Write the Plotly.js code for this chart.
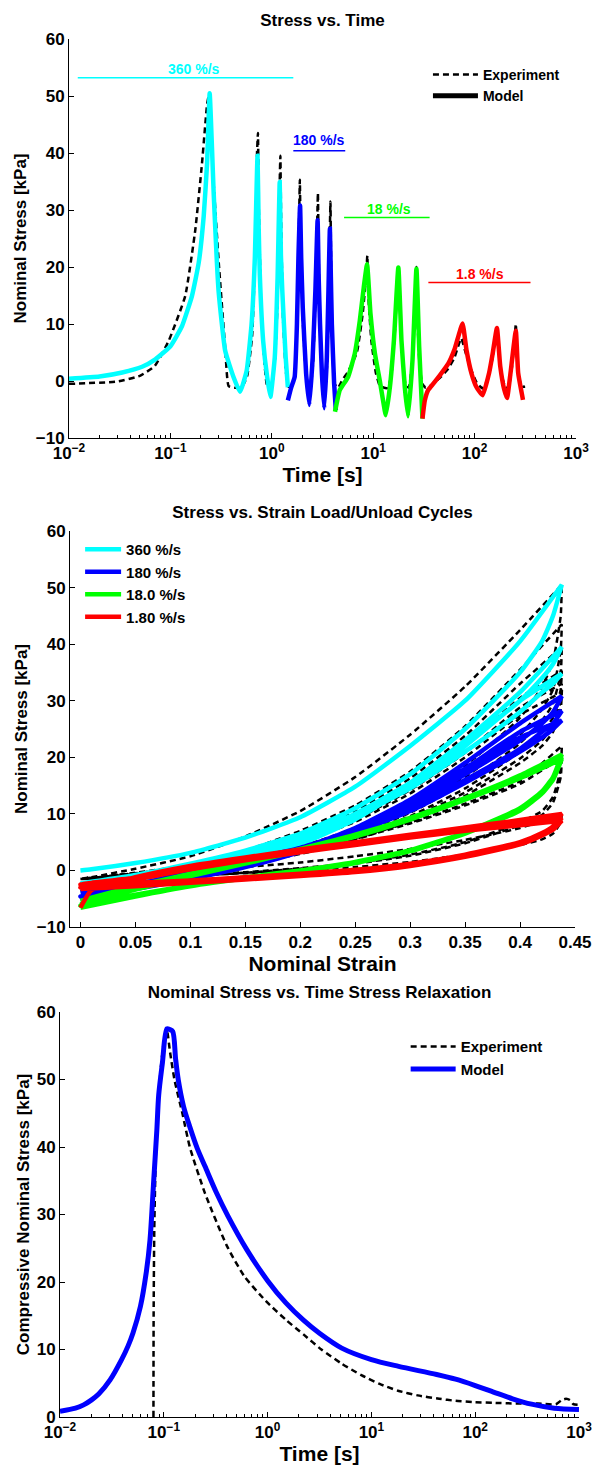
<!DOCTYPE html>
<html><head><meta charset="utf-8">
<script src="https://cdn.plot.ly/plotly-3.0.1.min.js"></script>
<style>body{margin:0;background:#fff}</style>
</head><body>
<div id="c1" style="width:592px;height:490px"></div>
<div id="c2" style="width:592px;height:490px"></div>
<div id="c3" style="width:592px;height:489px"></div>
<script>
// ---------------- Chart 1: Stress vs. Time ----------------
const cyanTime = [0.01, 0.02, 0.0335, 0.0526, 0.071, 0.1, 0.13, 0.163, 0.19, 0.213,
  0.23, 0.244, 0.257, 0.267, 0.299, 0.347, 0.419, 0.486, 0.565, 0.632,
  0.68, 0.723, 0.742, 0.762, 0.822, 0.9, 0.969, 1.07, 1.14, 1.197,
  1.23, 1.27, 1.37, 1.44];
const cyanStress = [0.4, 0.8, 1.5, 2.5, 3.8, 6.1, 9.6, 14.9, 20.7, 28.9,
  38.2, 50.5, 41, 33.1, 15.7, 5.3, 0.7, -1.9, 1.8, 10,
  21.5, 39.5, 27, 18.6, 7.0, 0.7, -2.8, 4.2, 18, 34.9,
  22, 15.7, 4.2, -1.1];
const blueTime = [1.44, 1.55, 1.68, 1.77, 1.83, 1.90, 1.95, 2.02, 2.18, 2.35,
  2.53, 2.69, 2.83, 2.9, 2.99, 3.12, 3.29, 3.49, 3.62, 3.74,
  3.82, 3.91, 4.12, 4.28];
const blueStress = [-3.4, -1.2, 0.7, 10, 21.5, 30.8, 21.5, 12.9, 1.3, -4.2,
  4.2, 15.8, 28.2, 18, 10, 1.3, -4.8, 4.2, 15.8, 26.7,
  18.6, 10, -0.5, -5.1];
const greenTime = [4.2, 4.68, 5.65, 6.58, 7.38, 8.08, 8.7, 9.4, 10.4, 11.6,
  12.5, 13.3, 14.6, 16.0, 17.7, 19.0, 20.5, 22.1, 24.4, 26.7,
  28.4, 30.6];
const greenStress = [-5.4, -1.6, 0.7, 4.8, 10.6, 16.5, 20.5, 11.8, 4.8, 0.1,
  -3.4, -6.0, -1.1, 7.1, 19.9, 7.1, -1.1, -6.2, 3.6, 19.7,
  6.0, -6.6];
const redTime = [30.6, 32.3, 34.8, 39, 45.4, 54.8, 63.8, 76, 83.2, 93.3,
  104.5, 120, 139, 151, 166, 179, 196, 209, 226, 255,
  269, 300];
const redStress = [-6.6, -3.4, -1.6, -0.5, 1.0, 3.0, 5.7, 10.1, 5.4, 1.3,
  -1.1, -2.5, 1.4, 4.9, 9.3, 2.6, -1.5, -3.0, 1.4, 8.8,
  1.4, -3.3];
const expTime1 = [0.01, 0.03, 0.05, 0.07, 0.096, 0.14, 0.176, 0.205, 0.23, 0.242,
  0.26, 0.3, 0.348, 0.375, 0.44, 0.5, 0.57, 0.64, 0.69, 0.715,
  0.73, 0.745, 0.78, 0.84, 0.89, 0.95, 1.0, 1.07, 1.14, 1.19,
  1.215, 1.235, 1.29, 1.38, 1.46, 1.58, 1.7, 1.79, 1.865, 1.89,
  1.93, 2.03, 2.2, 2.4, 2.55, 2.72, 2.82, 2.85, 2.9, 3.0,
  3.13, 3.32, 3.5, 3.66, 3.76, 3.79, 3.84, 3.95, 4.15, 4.5,
  5.0, 5.6, 6.9, 7.9, 8.55, 8.75, 8.95, 9.6, 10.6, 11.6,
  12.8, 14.0, 15.2, 16.4, 17.5, 17.8, 18.5, 19.5, 20.8, 22.4,
  24.2, 25.9, 26.7, 27.2, 28.6, 30.5, 33, 37, 42, 47,
  55, 63, 70, 74, 80, 90, 105, 120, 135, 150,
  160, 166, 172, 185, 200, 215, 232, 247, 255, 262,
  280, 300, 315];
const expStress1 = [-0.5, -0.1, 0.9, 2.6, 7.0, 14.9, 26.5, 38.2, 48.5, 50.5,
  38, 20.7, 5.5, -0.9, -1.2, -1.2, 0.8, 8, 24, 40,
  43.5, 30, 15, 4, -0.5, -1.2, -1.0, 3, 14, 33,
  39.5, 28, 11, 1.5, -1, -0.8, 2, 13, 30, 35.3,
  24, 10, 0.5, -1.2, 3, 17, 30, 33, 22, 9,
  0.5, -1.2, 2.5, 16, 29, 31.5, 21, 7, -0.5, -1.2,
  0.3, 1.5, 5, 12, 19, 22, 15, 7, 1.5, -0.8,
  -1.2, -1.2, 1.5, 9, 18.5, 20.2, 12, 4, -0.5, -1.2,
  3, 14, 20, 12, 3, -0.5, -1.2, -0.8, 0, 0.8,
  2.2, 4, 6.5, 7.5, 5.5, 2.5, -0.3, -1.3, 0.3, 4,
  8, 9.5, 5, 1, -1, -1.3, 2, 7, 10, 5,
  0, -1, -1];
const rateLabels = ['360 %/s', '180 %/s', '18 %/s', '1.8 %/s'];
const rateColors = ['#00FFFF', '#0000FF', '#00FF00', '#FF0000'];
const rateLineStart = [0.0122, 1.63, 5.16, 35];
const rateLineEnd = [1.63, 5.3, 36, 356];
const rateLineLevel = [53.2, 40.4, 28.7, 17.3];
const rateTextTime = [0.17, 2.94, 14.2, 114];
const rateTextStress = [54.8, 42.2, 30.2, 18.8];

// ---------------- Chart 2: Stress vs. Strain loops ----------------
const loadStrain = [0, 0.01, 0.05, 0.1, 0.15, 0.2, 0.25, 0.3, 0.35, 0.4, 0.438];
const unloadStrain = [0.438, 0.43, 0.42, 0.4, 0.35, 0.3, 0.25, 0.2, 0.15, 0.1, 0.05, 0];
const expUnloadStrain = [0.438, 0.437, 0.43, 0.42, 0.4, 0.35, 0.3, 0.25, 0.2, 0.15, 0.1, 0.05, 0];
const legendRates = ['360 %/s', '180 %/s', '18.0 %/s', '1.80 %/s'];

const cyanLoad1 = [0, 0.2, 1.3, 3.1, 5.8, 9.4, 14.8, 22, 30, 40.5, 50.5];
const cyanUnload1 = [50.5, 45, 40.5, 35, 25, 17, 11, 6.5, 3.5, 1.2, -0.8, -2.3];
const cyanLoad2 = [-2.3, -2.1, -1.2, 0.3, 2.2, 5, 9.5, 15.5, 23, 31.5, 39.5];
const cyanUnload2 = [39.5, 36.5, 34, 30, 22.5, 15.5, 10, 6, 3.2, 1, -1, -3];
const cyanLoad3 = [-3, -2.8, -1.8, -0.2, 1.8, 4.6, 9, 15, 22, 30, 34.8];
const cyanUnload3 = [34.8, 33, 31.5, 28, 21, 14.5, 9.5, 5.7, 3, 0.8, -1.3, -3.8];

const blueLoad1 = [-3.8, -3.5, -2.5, -1, 1, 3.8, 7.5, 12.5, 19, 26, 30.8];
const blueUnload1 = [30.8, 28, 26, 23, 17, 11.5, 7.2, 4, 1.8, -0.3, -2.5, -4.6];
const blueLoad2 = [-4.6, -4.2, -3, -1.3, 0.8, 3.5, 7, 12, 18, 24.5, 28.2];
const blueUnload2 = [28.2, 26, 24.5, 21.5, 16, 11, 7, 3.8, 1.5, -0.6, -2.8, -5];
const blueLoad3 = [-5, -4.6, -3.3, -1.5, 0.6, 3.3, 6.8, 11.5, 17.5, 23.5, 26.5];
const blueUnload3 = [26.5, 25, 23.5, 21, 15.5, 10.5, 6.7, 3.6, 1.3, -0.8, -3, -5.2];

const greenLoad1 = [-5.4, -4.8, -2.8, -0.6, 1.5, 3.8, 6.3, 9.3, 12.8, 16.8, 20.5];
const greenUnload1 = [20.5, 16.5, 14, 11, 6.7, 3.6, 1.5, 0, -1.2, -2.6, -4.3, -6];
const greenLoad2 = [-6, -5.3, -3.2, -0.8, 1.3, 3.6, 6.1, 9.1, 12.6, 16.5, 20];
const greenUnload2 = [20, 16.2, 13.8, 10.8, 6.6, 3.5, 1.4, -0.1, -1.3, -2.7, -4.4, -6.2];
const greenLoad3 = [-6.2, -5.5, -3.4, -1, 1.2, 3.5, 6, 9, 12.5, 16.3, 19.7];
const greenUnload3 = [19.7, 16, 13.6, 10.6, 6.5, 3.4, 1.3, -0.2, -1.4, -2.8, -4.6, -6.6];

const redLoad1 = [-6.6, -3.5, -1.2, 0.8, 2.3, 3.7, 5.0, 6.3, 7.6, 8.9, 10];
const redUnload1 = [10, 7.8, 6.6, 5, 2.8, 1.2, 0.1, -0.6, -1.2, -1.8, -2.2, -2.5];
const redLoad2 = [-2.5, -2.2, -1.3, 0.4, 2.0, 3.4, 4.7, 6.0, 7.2, 8.3, 9.3];
const redUnload2 = [9.3, 7.5, 6.4, 4.8, 2.6, 1.0, -0.1, -0.8, -1.4, -2, -2.5, -3];
const redLoad3 = [-3, -2.6, -1.6, 0.2, 1.8, 3.2, 4.5, 5.8, 7.0, 8.0, 8.8];
const redUnload3 = [8.8, 7.2, 6.2, 4.6, 2.4, 0.8, -0.3, -1.0, -1.6, -2.2, -2.8, -3.3];

const expLoadA = [-1.5, -1.2, 0.3, 2.5, 6, 10.5, 16.5, 24, 32.5, 42.5, 50.5];
const expUnloadA = [50.5, 45, 37, 32.5, 27, 18.5, 12, 7.5, 4.2, 2, 0.4, -0.8, -1.5];
const expLoadB = [-1.5, -1.3, -0.4, 1, 3.5, 7, 11.5, 17.5, 25.5, 35.5, 43.5];
const expUnloadB = [43.5, 39, 32, 28.5, 24, 16.5, 10.8, 6.8, 3.8, 1.8, 0.2, -0.9, -1.5];
const expLoadC = [-1.5, -1.3, -0.5, 0.8, 3.1, 6.3, 10.5, 16.3, 23.8, 33, 39.5];
const expUnloadC = [39.5, 35, 29.5, 26.5, 22.5, 15.5, 10.2, 6.4, 3.6, 1.6, 0.1, -1, -1.5];
const expLoadD = [-1.5, -1.3, -0.6, 0.6, 2.8, 5.7, 9.6, 15, 22, 30.5, 35.3];
const expUnloadD = [35.3, 32, 27, 24.5, 21, 14.5, 9.6, 6, 3.3, 1.4, 0, -1, -1.5];
const expLoadE = [-1.5, -1.3, -0.7, 0.4, 2.5, 5.3, 9, 14.2, 20.8, 28.8, 33];
const expUnloadE = [33, 30, 25.5, 23, 19.8, 13.8, 9.2, 5.7, 3.1, 1.3, -0.1, -1.1, -1.5];
const expLoadF = [-1.5, -1.3, -0.7, 0.3, 2.3, 5, 8.6, 13.6, 20, 27.5, 31.5];
const expUnloadF = [31.5, 28.5, 24.5, 22, 19, 13.2, 8.8, 5.4, 2.9, 1.2, -0.2, -1.1, -1.5];
const expLoadG = [-1.5, -1.3, -0.7, 0.3, 1.8, 3.6, 5.8, 8.5, 11.8, 15.8, 22];
const expUnloadG = [22, 18, 13, 10.5, 8.5, 5, 2.8, 1.3, 0.4, -0.3, -0.8, -1.2, -1.5];
const expLoadH = [-1.5, -1.3, -0.7, 0.3, 1.7, 3.5, 5.6, 8.3, 11.5, 15.3, 20];
const expUnloadH = [20, 16.5, 12, 9.8, 8, 4.8, 2.6, 1.2, 0.3, -0.4, -0.9, -1.2, -1.5];
const expLoadI = [-1.5, -1.4, -0.9, -0.2, 0.6, 1.4, 2.5, 3.8, 5.4, 7.5, 10];
const expUnloadI = [10, 8.5, 6.5, 5.5, 4.5, 2.8, 1.5, 0.6, 0, -0.5, -0.9, -1.2, -1.5];

// ---------------- Chart 3: Stress relaxation ----------------
const relaxTime = [0.01, 0.0141, 0.0169, 0.02, 0.0236, 0.0304, 0.0392, 0.0452, 0.0504, 0.0596,
  0.0676, 0.0736, 0.08, 0.0857, 0.0893, 0.097, 0.107, 0.114, 0.122, 0.13,
  0.138, 0.155, 0.178, 0.21, 0.25, 0.32, 0.414, 0.63, 1.0, 1.5,
  2.23, 3.16, 5.18, 10, 18.3, 42.5, 64.7, 98.6, 150, 229,
  349, 578, 1000];
const relaxModel = [0.84, 1.3, 1.8, 2.5, 3.4, 5.5, 8.5, 10.5, 12.4, 16.4,
  21.3, 26.2, 35.1, 42.5, 47.7, 52.5, 57.5, 57.4, 57.1, 53,
  49.9, 46, 43, 39.8, 37.1, 33.3, 29.8, 24.8, 20.2, 16.9,
  14.3, 12.4, 10.2, 8.5, 7.5, 6.3, 5.6, 4.7, 3.7, 2.7,
  1.9, 1.3, 1.1];
const relaxExpTime = [0.0795, 0.0798, 0.081, 0.0835, 0.0875, 0.094, 0.1, 0.107, 0.115, 0.127,
  0.151, 0.178, 0.25, 0.41, 0.6, 0.96, 1.5, 2.23, 3.3, 5.18,
  8, 12, 18, 27.9, 45, 64.7, 100, 150, 250, 400,
  600, 680, 750, 820, 880, 1000];
const relaxExp = [0, 15, 28, 38, 46, 52, 55.5, 57.3, 54, 49.9,
  45, 40, 33.1, 25.2, 20.8, 17.2, 14.4, 12.2, 10, 7.9,
  6.2, 4.9, 3.9, 3.2, 2.7, 2.4, 2.2, 2.1, 2.0, 2.0,
  1.9, 2.5, 2.7, 2.5, 1.9, 1.8];

// ---------------- ticks ----------------
const decadeVals = [0.01, 0.1, 1, 10, 100, 1000];
const decadeText = ['10<sup>−2</sup>', '10<sup>−1</sup>', '10<sup>0</sup>', '10<sup>1</sup>', '10<sup>2</sup>', '10<sup>3</sup>'];
const stressTicks = [-10, 0, 10, 20, 30, 40, 50, 60];
const strainTicks = [0, 0.05, 0.1, 0.15, 0.2, 0.25, 0.3, 0.35, 0.4, 0.45];
const strainText = ['0', '0.05', '0.1', '0.15', '0.2', '0.25', '0.3', '0.35', '0.4', '0.45'];

const minorLogTicks = [];
for (let e = -2; e < 3; e++) for (let m = 2; m < 10; m++) minorLogTicks.push(m * Math.pow(10, e));

// ---------------- helpers ----------------
const FONT = 'Liberation Sans, Arial, Helvetica, sans-serif';
const bold = (size, color) => ({family: FONT, size: size, color: color || '#000', weight: 'bold'});
function axis(extra) {
  return Object.assign({showline: true, linecolor: '#000', linewidth: 1, ticks: 'inside', ticklen: 5,
    tickwidth: 1, tickcolor: '#000', showgrid: false, zeroline: false, tickfont: bold(17),
    automargin: false, fixedrange: true, ticklabeloverflow: 'allow'}, extra);
}
function logAxis(extra) {
  return axis(Object.assign({type: 'log', range: [-2, 3], tickmode: 'array', tickvals: decadeVals,
    ticktext: decadeText,
    minor: {tickmode: 'array', tickvals: minorLogTicks, ticks: 'inside', ticklen: 3, tickcolor: '#000', tickwidth: 1, showgrid: false}}, extra));
}
const DASH = '6px,4px';
const cfg = {staticPlot: true, displayModeBar: false};

// ---------------- Chart 1 ----------------
const t1 = [];
t1.push({x: expTime1, y: expStress1, mode: 'lines', name: 'Experiment', line: {color: '#000', width: 2.5, dash: DASH, shape: 'spline', smoothing: 0.4}, showlegend: true});
t1.push({x: [null], y: [null], mode: 'lines', name: 'Model', line: {color: '#000', width: 5}, showlegend: true});
[[cyanTime, cyanStress, 0], [blueTime, blueStress, 1], [greenTime, greenStress, 2], [redTime, redStress, 3]].forEach(function (s) {
  t1.push({x: s[0], y: s[1], mode: 'lines', line: {color: rateColors[s[2]], width: 4.5, shape: 'spline', smoothing: 0.4}, showlegend: false});
});
const ann1 = [];
for (let i = 0; i < rateLabels.length; i++) {
  t1.push({x: [rateLineStart[i], rateLineEnd[i]], y: [rateLineLevel[i], rateLineLevel[i]], mode: 'lines',
    line: {color: rateColors[i], width: 1.5}, showlegend: false});
  ann1.push({x: Math.log10(rateTextTime[i]), y: rateTextStress[i], xref: 'x', yref: 'y', text: rateLabels[i],
    showarrow: false, font: bold(14, rateColors[i]), xanchor: 'center', yanchor: 'middle'});
}
Plotly.newPlot('c1', t1, {
  width: 592, height: 490, margin: {l: 69, r: 16, t: 39, b: 52},
  paper_bgcolor: '#fff', plot_bgcolor: '#fff',
  title: {text: 'Stress vs. Time', font: bold(17), x: 0.5, xref: 'paper', xanchor: 'center', y: 1 - 20 / 490, yref: 'container', yanchor: 'middle'},
  xaxis: logAxis({title: {text: 'Time [s]', font: bold(21), standoff: 0}}),
  yaxis: axis({range: [-10, 60], tickmode: 'array', tickvals: stressTicks, title: {text: 'Nominal Stress [kPa]', font: bold(17), standoff: 4}}),
  showlegend: true,
  legend: {x: 0.708, y: 0.95, xanchor: 'left', yanchor: 'top', font: bold(14), bgcolor: 'rgba(0,0,0,0)', itemwidth: 45, tracegroupgap: 0},
  annotations: ann1
}, cfg);

// ---------------- Chart 2 ----------------
function buildLoops(loads, unloads, sLoad, sUnload) {
  const x = [], y = [];
  for (let i = 0; i < loads.length; i++) {
    x.push(...sLoad); y.push(...loads[i]);
    x.push(...sUnload); y.push(...unloads[i]);
  }
  return {x: x, y: y};
}
const expLoops = buildLoops(
  [expLoadA, expLoadB, expLoadC, expLoadD, expLoadE, expLoadF, expLoadG, expLoadH, expLoadI],
  [expUnloadA, expUnloadB, expUnloadC, expUnloadD, expUnloadE, expUnloadF, expUnloadG, expUnloadH, expUnloadI],
  loadStrain, expUnloadStrain);
const modelLoops = [
  buildLoops([cyanLoad1, cyanLoad2, cyanLoad3], [cyanUnload1, cyanUnload2, cyanUnload3], loadStrain, unloadStrain),
  buildLoops([blueLoad1, blueLoad2, blueLoad3], [blueUnload1, blueUnload2, blueUnload3], loadStrain, unloadStrain),
  buildLoops([greenLoad1, greenLoad2, greenLoad3], [greenUnload1, greenUnload2, greenUnload3], loadStrain, unloadStrain),
  buildLoops([redLoad1, redLoad2, redLoad3], [redUnload1, redUnload2, redUnload3], loadStrain, unloadStrain)
];
const t2 = [{x: expLoops.x, y: expLoops.y, mode: 'lines', line: {color: '#000', width: 2.5, dash: DASH, shape: 'spline', smoothing: 0.5}, showlegend: false}];
modelLoops.forEach(function (L, i) {
  t2.push({x: L.x, y: L.y, mode: 'lines', name: legendRates[i], line: {color: rateColors[i], width: 4.5, shape: 'spline', smoothing: 0.5}, showlegend: true});
});
Plotly.newPlot('c2', t2, {
  width: 592, height: 490, margin: {l: 70, r: 17, t: 41, b: 53},
  paper_bgcolor: '#fff', plot_bgcolor: '#fff',
  title: {text: 'Stress vs. Strain Load/Unload Cycles', font: bold(17), x: 0.5, xref: 'paper', xanchor: 'center', y: 1 - 22 / 490, yref: 'container', yanchor: 'middle'},
  xaxis: axis({range: [-0.0095, 0.45], tickmode: 'array', tickvals: strainTicks, ticktext: strainText, title: {text: 'Nominal Strain', font: bold(21), standoff: 0}}),
  yaxis: axis({range: [-10, 60], tickmode: 'array', tickvals: stressTicks, title: {text: 'Nominal Stress [kPa]', font: bold(17), standoff: 4}}),
  showlegend: true,
  legend: {x: 0.02, y: 0.995, xanchor: 'left', yanchor: 'top', font: bold(15), bgcolor: 'rgba(0,0,0,0)', itemwidth: 36, tracegroupgap: 0}
}, cfg);

// ---------------- Chart 3 ----------------
const t3 = [
  {x: relaxExpTime, y: relaxExp, mode: 'lines', name: 'Experiment', line: {color: '#000', width: 2.5, dash: DASH, shape: 'spline', smoothing: 0.6}, showlegend: true},
  {x: relaxTime, y: relaxModel, mode: 'lines', name: 'Model', line: {color: '#0000FF', width: 5, shape: 'spline', smoothing: 0.8}, showlegend: true}
];
Plotly.newPlot('c3', t3, {
  width: 592, height: 489, margin: {l: 60, r: 13, t: 32, b: 52},
  paper_bgcolor: '#fff', plot_bgcolor: '#fff',
  title: {text: 'Nominal Stress vs. Time Stress Relaxation', font: bold(17), x: 0.5, xref: 'paper', xanchor: 'center', y: 1 - 12 / 489, yref: 'container', yanchor: 'middle'},
  xaxis: logAxis({title: {text: 'Time [s]', font: bold(21), standoff: 2}}),
  yaxis: axis({range: [0, 60], tickmode: 'array', tickvals: [0, 10, 20, 30, 40, 50, 60], title: {text: 'Compressive Nominal Stress [kPa]', font: bold(17), standoff: 2}}),
  showlegend: true,
  legend: {x: 0.666, y: 0.955, xanchor: 'left', yanchor: 'top', font: bold(15), bgcolor: 'rgba(0,0,0,0)', itemwidth: 45, tracegroupgap: 0}
}, cfg);
</script>
</body></html>
